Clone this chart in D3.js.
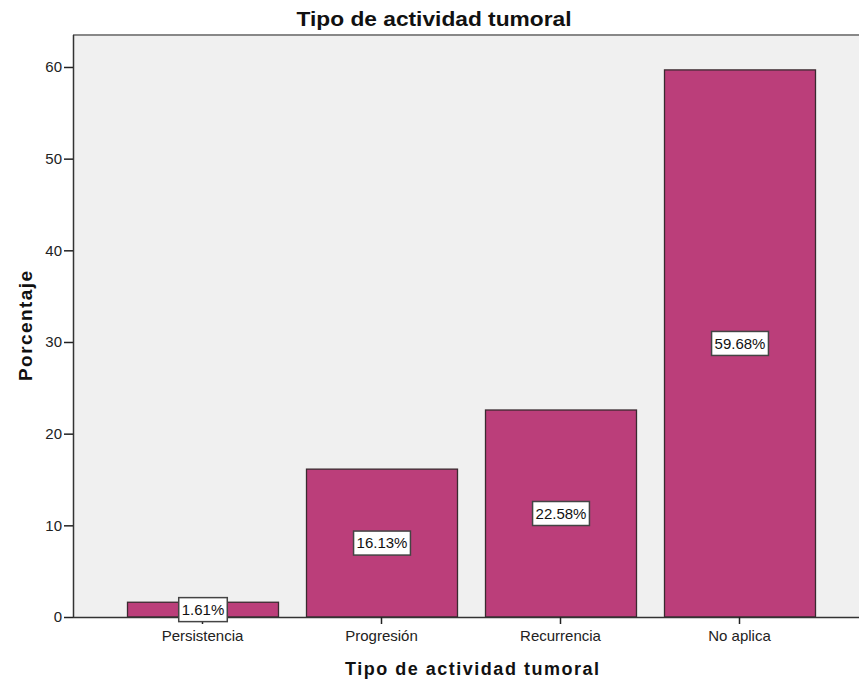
<!DOCTYPE html>
<html>
<head>
<meta charset="utf-8">
<script src="https://cdn.jsdelivr.net/npm/d3@7"></script>
<style>
html,body{margin:0;padding:0;background:#fff;}
svg{display:block;}
text{font-family:"Liberation Sans", Arial, sans-serif;}
</style>
</head>
<body>
<svg id="chart" width="859" height="681"></svg>
<script>
const categories = ["Persistencia", "Progresión", "Recurrencia", "No aplica"];
const values = [1.61, 16.13, 22.58, 59.68];
const valueLabels = ["1.61%", "16.13%", "22.58%", "59.68%"];
const yTicks = [0, 10, 20, 30, 40, 50, 60];
const chartTitle = "Tipo de actividad tumoral";
const xTitle = "Tipo de actividad tumoral";
const yTitle = "Porcentaje";

(function () {
const svg = d3.select("#chart");
const W = 859, H = 681;
const mLeft = 73, mTop = 35, mBottom = 617, rightRange = 869;

const x = d3.scaleBand().domain(categories).range([mLeft, rightRange])
  .paddingInner(28/179).paddingOuter(54/179);
const y = d3.scaleLinear().domain([0, 60]).range([mBottom, mBottom - 60*9.167]);

// plot background
svg.append("rect").attr("x", mLeft).attr("y", mTop)
  .attr("width", rightRange - mLeft).attr("height", mBottom - mTop)
  .attr("fill", "#f0f0f0");
// top border
svg.append("line").attr("x1", mLeft).attr("x2", W).attr("y1", mTop).attr("y2", mTop)
  .attr("stroke", "#888").attr("stroke-width", 2);

// bars
svg.selectAll("rect.bar").data(categories).enter().append("rect")
  .attr("class", "bar")
  .attr("x", d => x(d) + 0.5)
  .attr("y", (d, i) => y(values[i]))
  .attr("width", x.bandwidth())
  .attr("height", (d, i) => y(0) - y(values[i]))
  .attr("fill", "#bb3e7a")
  .attr("stroke", "#3a2a30")
  .attr("stroke-width", 1.3);

// axes
const yAxis = d3.axisLeft(y).tickValues(yTicks).tickSize(9).tickPadding(2).tickFormat(d3.format("d"));
const gy = svg.append("g").attr("transform", `translate(${mLeft},0)`).call(yAxis);
gy.select(".domain").attr("d", `M0.5,${mTop}V${mBottom + 1}`).attr("stroke", "#333").attr("stroke-width", 1.5);
gy.selectAll(".tick line").attr("stroke", "#222").attr("stroke-width", 1.5);
gy.selectAll(".tick text").attr("font-size", 15).attr("fill", "#222")
  .style("font-family", "'Liberation Sans', Arial, sans-serif");

const xAxis = d3.axisBottom(x).tickSize(7).tickPadding(6);
const gx = svg.append("g").attr("transform", `translate(0,${mBottom})`).call(xAxis);
gx.select(".domain").attr("d", `M${mLeft},0.5H${W}`).attr("stroke", "#333").attr("stroke-width", 1.5);
gx.selectAll(".tick line").attr("stroke", "#222").attr("stroke-width", 1.5);
gx.selectAll(".tick text").attr("font-size", 15).attr("fill", "#222")
  .style("font-family", "'Liberation Sans', Arial, sans-serif");

// value labels
const lab = svg.selectAll("g.lab").data(categories).enter().append("g")
  .attr("class", "lab")
  .attr("transform", (d, i) => `translate(${x(d) + x.bandwidth()/2 + 0.5},${y(values[i]/2)})`);
lab.each(function(d, i) {
  const g = d3.select(this);
  const t = g.append("text").text(valueLabels[i])
    .attr("text-anchor", "middle").attr("dy", "0.36em")
    .attr("font-size", 15).attr("fill", "#111");
  const bb = t.node().getBBox();
  g.insert("rect", "text")
    .attr("x", bb.x - 3).attr("y", -12).attr("width", bb.width + 6).attr("height", 24)
    .attr("fill", "#fff").attr("stroke", "#444").attr("stroke-width", 1.5);
});

// titles
svg.append("text").attr("x", 434).attr("y", 26).attr("text-anchor", "middle")
  .attr("font-size", 20).attr("font-weight", "bold").attr("fill", "#111")
  .attr("textLength", 275).attr("lengthAdjust", "spacingAndGlyphs")
  .text(chartTitle);
svg.append("text").attr("x", 472).attr("y", 675).attr("text-anchor", "middle")
  .attr("font-size", 18).attr("font-weight", "bold").attr("fill", "#111")
  .attr("textLength", 254).attr("lengthAdjust", "spacing")
  .text(xTitle);
svg.append("text").attr("transform", `translate(32,326) rotate(-90)`)
  .attr("text-anchor", "middle")
  .attr("font-size", 19).attr("font-weight", "bold").attr("fill", "#111")
  .attr("textLength", 110).attr("lengthAdjust", "spacing")
  .text(yTitle);
})();
</script>
</body>
</html>
